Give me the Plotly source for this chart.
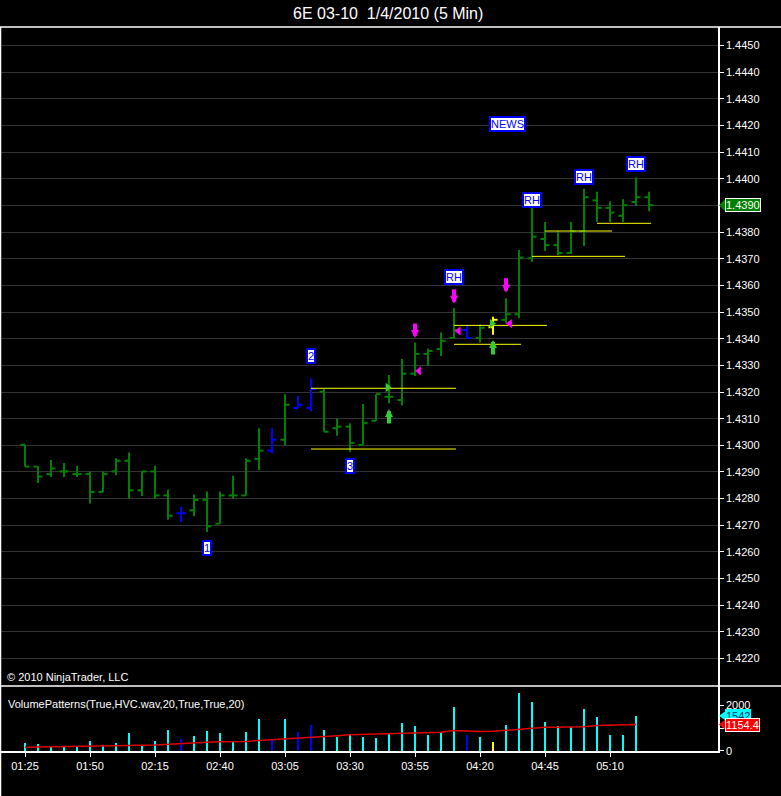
import plotly.graph_objects as go

# ---------------- data ----------------
times = ["01:25", "01:30", "01:35", "01:40", "01:45", "01:50", "01:55", "02:00", "02:05", "02:10",
         "02:15", "02:20", "02:25", "02:30", "02:35", "02:40", "02:45", "02:50", "02:55", "03:00",
         "03:05", "03:10", "03:15", "03:20", "03:25", "03:30", "03:35", "03:40", "03:45", "03:50",
         "03:55", "04:00", "04:05", "04:10", "04:15", "04:20", "04:25", "04:30", "04:35", "04:40",
         "04:45", "04:50", "04:55", "05:00", "05:05", "05:10", "05:15", "05:20", "05:25"]

opens = [1.43002, 1.42920, 1.42892, 1.42902, 1.42892, 1.42892, 1.42825, 1.42902, 1.42942, 1.42831,
         1.42902, 1.42812, 1.42745, 1.42756, 1.42795, 1.42706, 1.42812, 1.42812, 1.42949, 1.42980,
         1.43021, 1.43140, 1.43140, 1.43201, 1.43064, 1.43070, 1.43001, 1.43092, 1.43182, 1.43170,
         1.43269, 1.43343, 1.43361, 1.43403, 1.43433, 1.43403, 1.43443, 1.43471, 1.43492, 1.43702,
         1.43774, 1.43751, 1.43722, 1.43803, 1.43919, 1.43891, 1.43861, 1.43913, 1.43931]
highs = [1.43002, 1.42920, 1.42945, 1.42934, 1.42923, 1.42902, 1.42902, 1.42951, 1.42973, 1.42902,
         1.42923, 1.42834, 1.42768, 1.42815, 1.42827, 1.42827, 1.42886, 1.42951, 1.43064, 1.43064,
         1.43192, 1.43185, 1.43251, 1.43211, 1.43101, 1.43083, 1.43155, 1.43192, 1.43264, 1.43324,
         1.43386, 1.43363, 1.43423, 1.43515, 1.43451, 1.43453, 1.43482, 1.43552, 1.43733, 1.43894,
         1.43838, 1.43803, 1.43838, 1.43963, 1.43951, 1.43916, 1.43923, 1.44005, 1.43951]
lows = [1.42920, 1.42859, 1.42881, 1.42881, 1.42881, 1.42782, 1.42825, 1.42888, 1.42800, 1.42810,
        1.42800, 1.42721, 1.42712, 1.42734, 1.42675, 1.42706, 1.42800, 1.42812, 1.42907, 1.42970,
        1.43000, 1.43140, 1.43128, 1.43051, 1.43036, 1.42976, 1.43001, 1.43092, 1.43158, 1.43149,
        1.43260, 1.43298, 1.43335, 1.43401, 1.43401, 1.43386, 1.43415, 1.43458, 1.43477, 1.43689,
        1.43729, 1.43713, 1.43718, 1.43748, 1.43838, 1.43838, 1.43838, 1.43898, 1.43878]
closes = [1.42920, 1.42883, 1.42913, 1.42902, 1.42892, 1.42825, 1.42892, 1.42942, 1.42831, 1.42902,
          1.42812, 1.42736, 1.42745, 1.42795, 1.42696, 1.42812, 1.42812, 1.42942, 1.42980, 1.43021,
          1.43152, 1.43152, 1.43211, 1.43051, 1.43070, 1.43009, 1.43083, 1.43192, 1.43182, 1.43269,
          1.43343, 1.43354, 1.43392, 1.43432, 1.43403, 1.43441, 1.43471, 1.43492, 1.43704, 1.43783,
          1.43751, 1.43722, 1.43803, 1.43931, 1.43891, 1.43873, 1.43901, 1.43931, 1.43901]
bar_kind = ["g"] * 12 + ["b"] + ["g"] * 6 + ["b", "g", "b", "b"] + ["g"] * 11 + ["b", "g", "y"] + ["g"] * 12

volumes = [353, 309, 220, 220, 176, 426, 250, 353, 794, 250,
           426, 911, 515, 647, 867, 794, 382, 823, 1397, 515,
           1397, 823, 1132, 911, 603, 691, 603, 544, 735, 1220,
           1088, 691, 823, 1926, 691, 603, 382, 1132, 2543, 2146,
           1264, 1088, 1044, 1838, 1485, 691, 691, 1542]
vol_avg = [147, 155, 160, 165, 170, 180, 190, 205, 230, 240,
           255, 290, 305, 330, 370, 395, 400, 410, 450, 480,
           520, 545, 580, 620, 660, 700, 720, 725, 740, 760,
           775, 790, 810, 890, 860, 850, 855, 900, 950, 1010,
           1030, 1030, 1035, 1060, 1110, 1120, 1130, 1154.4]

price_ticks = [1.4220, 1.4230, 1.4240, 1.4250, 1.4260, 1.4270, 1.4280, 1.4290, 1.4300, 1.4310, 1.4320, 1.4330,
               1.4340, 1.4350, 1.4360, 1.4370, 1.4380, 1.4390, 1.4400, 1.4410, 1.4420, 1.4430, 1.4440, 1.4450]
vol_ticks = [0, 1000, 2000]
time_tick_bars = [0, 5, 10, 15, 20, 25, 30, 35, 40, 45]

# horizontal levels: price, start bar, end bar
level_price = [1.43214, 1.42986, 1.43450, 1.43379, 1.43804, 1.43709, 1.43833]
level_start = [22, 22, 33, 33, 40, 39, 44]
level_end = [33.15, 33.15, 40.15, 38.15, 45.15, 46.15, 48.15]

# text marks: label, bar, price
label_text = ["1", "2", "3", "RH", "NEWS", "RH", "RH", "RH"]
label_bar = [14, 22, 25, 33, 37.1, 39, 43, 47]
label_price = [1.42615, 1.43335, 1.42922, 1.43632, 1.44206, 1.43922, 1.44005, 1.44056]

down_arrow_bar = [30, 33, 37]
down_arrow_price = [1.43403, 1.43531, 1.43572]
up_arrow_bar = [28, 36]
up_arrow_price = [1.43136, 1.43395]
left_tri_bar = [30.3, 33.35, 37.3]
left_tri_price = [1.43279, 1.43429, 1.43457]
right_tri_bar = [27.9, 35.92]
right_tri_price = [1.43217, 1.43457]

title_text = "6E 03-10  1/4/2010 (5 Min)"

# ---------------- geometry ----------------
W, H = 781, 796
AX_X = 718
X0, DX = 25, 13


def pyf(ypx):
    return 1 - ypx / H


x_range = [-X0 / DX, (AX_X - X0) / DX]
PX_PER_PRICE = 26650.0
price_range = [1.4300 - (686 - 445.3) / PX_PER_PRICE, 1.4300 + (445.3 - 27) / PX_PER_PRICE]
PX_PER_VOL = 22.7 / 1000
vol_range = [-(751 - 750.7) / PX_PER_VOL, (750.7 - 686) / PX_PER_VOL]

GREEN, BLUE, YELLOW = "#008000", "#0000FF", "#FFFF00"
color_map = {"g": GREEN, "b": BLUE, "y": YELLOW}
vol_color = []
for k in bar_kind[:len(volumes)]:
    vol_color.append({"g": "#00FFFF", "b": "#0000FF", "y": "#FFFF00"}[k])

FONT = "Liberation Sans, Arial, sans-serif"

fig = go.Figure()

# OHLC bars drawn as segments grouped by colour
TW = 0.35
for kind, col in color_map.items():
    xs, ys = [], []
    for i, k in enumerate(bar_kind):
        if k != kind:
            continue
        xs += [i, i, None, i - TW, i, None, i, i + TW, None]
        ys += [lows[i], highs[i], None, opens[i], opens[i], None, closes[i], closes[i], None]
    fig.add_trace(go.Scatter(x=xs, y=ys, mode="lines", line=dict(color=col, width=2),
                             xaxis="x", yaxis="y", hoverinfo="skip", showlegend=False))

# levels
lx, ly = [], []
for p, s, e in zip(level_price, level_start, level_end):
    lx += [s, e, None]
    ly += [p, p, None]
fig.add_trace(go.Scatter(x=lx, y=ly, mode="lines", line=dict(color=YELLOW, width=1),
                         xaxis="x", yaxis="y", hoverinfo="skip", showlegend=False))

# triangles
fig.add_trace(go.Scatter(x=left_tri_bar, y=left_tri_price, mode="markers",
                         marker=dict(symbol="triangle-left", size=8, color="#FF00FF", line=dict(width=0)),
                         xaxis="x", yaxis="y", hoverinfo="skip", showlegend=False))
fig.add_trace(go.Scatter(x=right_tri_bar, y=right_tri_price, mode="markers",
                         marker=dict(symbol="triangle-right", size=8, color="#33CC33", line=dict(width=0)),
                         xaxis="x", yaxis="y", hoverinfo="skip", showlegend=False))

# volume
fig.add_trace(go.Bar(x=list(range(len(volumes))), y=volumes, width=0.16,
                     marker=dict(color=vol_color, line=dict(width=0)),
                     xaxis="x", yaxis="y2", hoverinfo="skip", showlegend=False))
fig.add_trace(go.Scatter(x=list(range(len(vol_avg))), y=vol_avg, mode="lines",
                         line=dict(color="#E00000", width=1.5),
                         xaxis="x", yaxis="y2", hoverinfo="skip", showlegend=False))

annotations = []
# arrows
for b, p in zip(down_arrow_bar, down_arrow_price):
    annotations.append(dict(x=b, y=p, xref="x", yref="y", text="", showarrow=True, ax=0, ay=-16,
                            arrowhead=2, arrowwidth=4, arrowsize=0.4, arrowcolor="#FF00FF", standoff=0))
for b, p in zip(up_arrow_bar, up_arrow_price):
    annotations.append(dict(x=b, y=p, xref="x", yref="y", text="", showarrow=True, ax=0, ay=16,
                            arrowhead=2, arrowwidth=4, arrowsize=0.4, arrowcolor="#33CC33", standoff=0))
# labels
for t, b, p in zip(label_text, label_bar, label_price):
    annotations.append(dict(x=b, y=p, xref="x", yref="y", text=t, showarrow=False,
                            font=dict(family=FONT, size=11, color="#0000FF"),
                            bgcolor="white", bordercolor="#0000FF", borderwidth=2, borderpad=0))

# title & texts
annotations.append(dict(x=388 / W, y=pyf(13), xref="paper", yref="paper", text=title_text, showarrow=False,
                        font=dict(family=FONT, size=16, color="white"),
                        xanchor="center", yanchor="middle"))
annotations.append(dict(x=5 / W, y=pyf(677), xref="paper", yref="paper", text="© 2010 NinjaTrader, LLC",
                        showarrow=False, font=dict(family=FONT, size=11, color="white"),
                        xanchor="left", yanchor="middle"))
annotations.append(dict(x=6 / W, y=pyf(704), xref="paper", yref="paper",
                        text="VolumePatterns(True,HVC.wav,20,True,True,20)",
                        showarrow=False, font=dict(family=FONT, size=11, color="white"),
                        xanchor="left", yanchor="middle"))

# value tags
last_close = closes[-1]
last_vol = volumes[-1]
last_avg = vol_avg[-1]
tags = [
    ("y", last_close, "%.4f" % last_close, GREEN, "white", 7 / PX_PER_PRICE),
    ("y2", last_vol, "%d" % last_vol, "#00FFFF", "#003366", 5 * 1000 / 22.7),
    ("y2", last_avg, "%.1f" % last_avg, "#FF0000", "white", 5.5 * 1000 / 22.7),
]
shapes = []
for yr, val, txt, bg, fc, half in tags:
    annotations.append(dict(x=725 / W, y=val, xref="paper", yref=yr, text=txt, showarrow=False,
                            xanchor="left", yanchor="middle",
                            font=dict(family=FONT, size=11, color=fc),
                            bgcolor=bg, bordercolor="white" if bg != "#00FFFF" else bg,
                            borderwidth=1, borderpad=0))
    shapes.append(dict(type="path", xref="paper", yref=yr, layer="above",
                       path="M %f,%f L %f,%f L %f,%f Z" % (719 / W, val, 726 / W, val + half, 726 / W, val - half),
                       fillcolor=bg, line=dict(width=0)))

# frame lines
for ypx in (27, 686):
    shapes.append(dict(type="line", xref="paper", yref="paper", x0=0, x1=1, y0=pyf(ypx), y1=pyf(ypx),
                       line=dict(color="white", width=1.5), layer="above"))
shapes.append(dict(type="line", xref="paper", yref="paper", x0=0.5 / W, x1=0.5 / W, y0=0, y1=pyf(27),
                   line=dict(color="white", width=1.5), layer="above"))

axis_font = dict(family=FONT, size=11, color="white")
fig.update_layout(
    width=W, height=H,
    margin=dict(l=0, r=0, t=0, b=0, pad=0, autoexpand=False),
    paper_bgcolor="black", plot_bgcolor="black",
    showlegend=False,
    bargap=0,
    xaxis=dict(domain=[0, AX_X / W], range=x_range, anchor="y2", showgrid=False, zeroline=False,
               automargin=False,
               showline=True, linecolor="white", linewidth=1.5,
               tickmode="array", tickvals=time_tick_bars, ticktext=[times[i] for i in time_tick_bars],
               ticks="outside", ticklen=4, tickcolor="white", tickfont=axis_font),
    yaxis=dict(domain=[pyf(686), pyf(27)], range=price_range, anchor="x", side="right",
               automargin=False,
               showgrid=True, gridcolor="#333333", gridwidth=1, zeroline=False,
               showline=True, linecolor="white", linewidth=1.5,
               tickmode="array", tickvals=price_ticks, ticktext=["%.4f" % v for v in price_ticks],
               ticks="outside", ticklen=4, tickcolor="white", tickfont=axis_font),
    yaxis2=dict(domain=[pyf(751), pyf(686)], range=vol_range, anchor="x", side="right",
                automargin=False,
                showgrid=False, zeroline=False,
                showline=True, linecolor="white", linewidth=1.5,
                tickmode="array", tickvals=vol_ticks, ticktext=[str(v) for v in vol_ticks],
                ticks="outside", ticklen=4, tickcolor="white", tickfont=axis_font),
    annotations=annotations,
    shapes=shapes,
)

fig.write_html("out.html", config={"displayModeBar": False},
               post_script="document.body.style.margin='0';document.body.style.overflow='hidden';"
                           "document.documentElement.style.overflow='hidden';")
